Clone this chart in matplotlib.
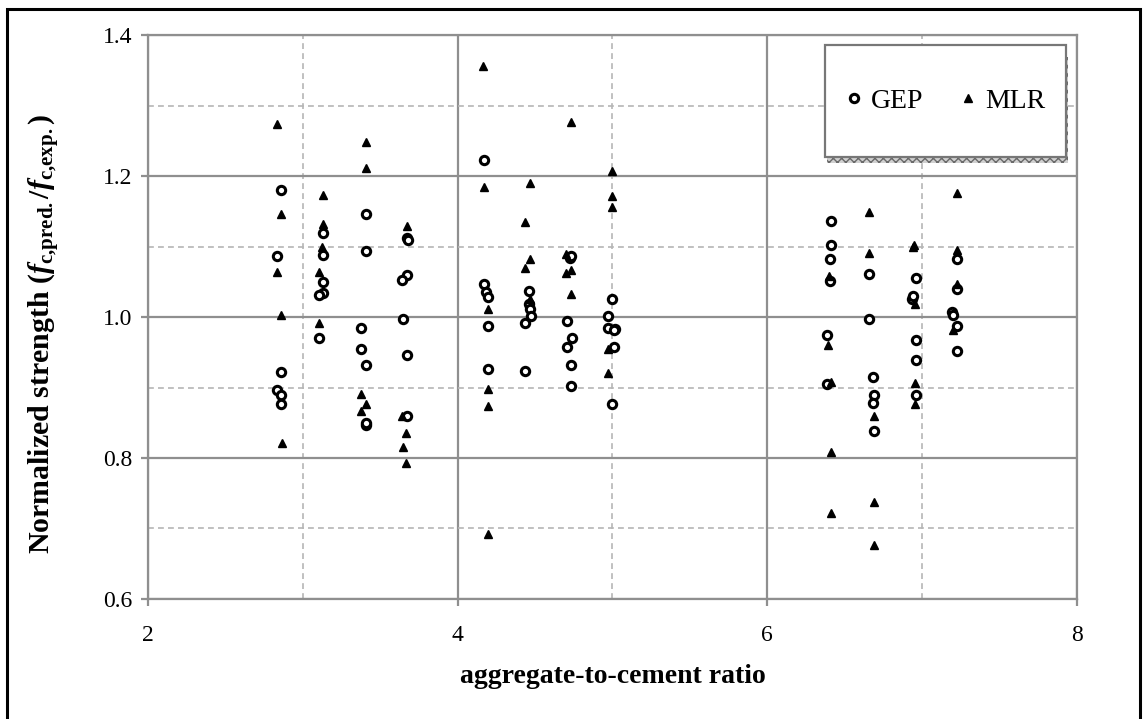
import matplotlib.pyplot as plt
from matplotlib.patches import Rectangle
from matplotlib.lines import Line2D
from matplotlib.ticker import MultipleLocator

plt.rcParams['font.family'] = ['Liberation Serif', 'DejaVu Serif']
plt.rcParams['mathtext.fontset'] = 'custom'
plt.rcParams['mathtext.rm'] = 'Liberation Serif:bold'
plt.rcParams['mathtext.it'] = 'Liberation Serif:bold:italic'
plt.rcParams['mathtext.bf'] = 'Liberation Serif:bold'

# GEP predictions, normalized by the experimental strength
gep_x = [2.862, 2.834, 2.862, 2.834, 2.862, 2.862,
         3.131, 3.131, 3.131, 3.131, 3.103, 3.103,
         3.407, 3.407, 3.373, 3.373, 3.405, 3.405, 3.409,
         3.675, 3.678, 3.675, 3.642, 3.644, 3.675, 3.675,
         4.168, 4.168, 4.185, 4.196, 4.194, 4.196,
         4.463, 4.463, 4.468, 4.472, 4.435, 4.435,
         4.725, 4.735, 4.707, 4.740, 4.707, 4.735, 4.735,
         5.000, 4.974, 4.974, 5.015, 5.010, 5.010, 5.000,
         6.414, 6.414, 6.407, 6.407, 6.388, 6.388,
         6.655, 6.655, 6.680, 6.687, 6.680, 6.687,
         6.957, 6.931, 6.940, 6.957, 6.957, 6.957,
         7.228, 7.228, 7.194, 7.200, 7.228, 7.228]
gep_y = [1.181, 1.086, 0.922, 0.897, 0.889, 0.877,
         1.119, 1.088, 1.050, 1.034, 1.032, 0.970,
         1.146, 1.094, 0.984, 0.954, 0.932, 0.847, 0.849,
         1.112, 1.110, 1.060, 1.052, 0.997, 0.946, 0.860,
         1.223, 1.047, 1.035, 1.028, 0.988, 0.926,
         1.037, 1.019, 1.011, 1.001, 0.991, 0.924,
         1.084, 1.086, 0.994, 0.971, 0.957, 0.932, 0.902,
         1.026, 1.001, 0.985, 0.983, 0.981, 0.958, 0.877,
         1.136, 1.103, 1.083, 1.051, 0.975, 0.905,
         1.061, 0.997, 0.915, 0.889, 0.878, 0.838,
         1.056, 1.026, 1.030, 0.967, 0.939, 0.890,
         1.083, 1.040, 1.007, 1.003, 0.988, 0.952]

# MLR predictions, normalized by the experimental strength
mlr_x = [2.834, 2.862, 2.834, 2.862, 2.866,
         3.131, 3.131, 3.127, 3.105, 3.107,
         3.407, 3.407, 3.373, 3.405, 3.377,
         3.675, 3.642, 3.669, 3.649, 3.669,
         4.164, 4.168, 4.194, 4.194, 4.194, 4.194,
         4.466, 4.435, 4.466, 4.435, 4.466,
         4.735, 4.700, 4.735, 4.700, 4.735,
         5.000, 5.000, 5.000, 4.974, 4.974,
         6.397, 6.392, 6.414, 6.414, 6.409,
         6.659, 6.659, 6.687, 6.687, 6.687,
         6.940, 6.950, 6.953, 6.953, 6.953,
         7.226, 7.226, 7.226, 7.200]
mlr_y = [1.274, 1.146, 1.064, 1.003, 0.822,
         1.173, 1.132, 1.100, 1.064, 0.992,
         1.249, 1.211, 0.891, 0.877, 0.866,
         1.129, 0.859, 0.835, 0.816, 0.793,
         1.356, 1.185, 1.011, 0.898, 0.874, 0.692,
         1.190, 1.135, 1.082, 1.069, 1.025,
         1.277, 1.089, 1.067, 1.062, 1.033,
         1.208, 1.172, 1.156, 0.954, 0.920,
         1.059, 0.960, 0.908, 0.809, 0.722,
         1.149, 1.091, 0.860, 0.738, 0.677,
         1.100, 1.102, 1.019, 0.906, 0.877,
         1.176, 1.095, 1.047, 0.981]

x_ticks = [2, 4, 6, 8]
y_ticks = [0.6, 0.8, 1.0, 1.2, 1.4]

fig = plt.figure(figsize=(11.47, 7.19), dpi=100)
ax = fig.add_axes([0.129, 0.167, 0.81, 0.784])

circ = dict(marker='o', ms=6.0, mfc='white', mec='black', mew=2.2, ls='none')
tri = dict(marker='^', ms=5.6, color='black', ls='none')

ax.plot(gep_x, gep_y, label='GEP', zorder=3, **circ)
ax.plot(mlr_x, mlr_y, label='MLR', zorder=3, **tri)

ax.set_xlim(2, 8)
ax.set_ylim(0.6, 1.4)
ax.set_xticks(x_ticks)
ax.set_yticks(y_ticks)
ax.set_yticklabels([f'{v:.1f}' for v in y_ticks])
ax.xaxis.set_minor_locator(MultipleLocator(1))
ax.yaxis.set_minor_locator(MultipleLocator(0.1))

ax.grid(which='major', color='#8f8f8f', lw=1.6, ls='-')
ax.grid(which='minor', color='#b5b5b5', lw=1.2, ls=(0, (3.5, 2.5)))
ax.set_axisbelow(True)
for s in ax.spines.values():
    s.set_color('#8f8f8f')
    s.set_linewidth(1.6)

ax.tick_params(which='major', direction='out', length=5, width=1.6,
               color='#8f8f8f', labelsize=17)
ax.tick_params(axis='x', pad=14)
ax.tick_params(axis='y', pad=6)
ax.tick_params(which='minor', length=0)

ax.set_xlabel('aggregate-to-cement ratio', fontsize=20, fontweight='bold')
ax.xaxis.set_label_coords(0.5, -0.115)
ax.set_ylabel(r'Normalized strength ($f_{\rm c{,}pred.}$/$f_{\rm c{,}exp.}$)',
              fontsize=21.5, fontweight='bold')
ax.yaxis.set_label_coords(-0.093, 0.47)

# legend box with a hatched shadow along the bottom and right edges
bx, by, bw, bh = 0.729, 0.784, 0.259, 0.198
sh = dict(transform=ax.transAxes, facecolor='#d0d0d0', edgecolor='#6a6a6a',
          hatch='xxxx', lw=0, zorder=4)
ax.add_patch(Rectangle((bx + 0.002, by - 0.011), bw, 0.011, **sh))
ax.add_patch(Rectangle((bx + bw, by - 0.011), 0.002, bh - 0.01, **sh))
ax.add_patch(Rectangle((bx, by), bw, bh, transform=ax.transAxes,
                       facecolor='white', edgecolor='#777777', lw=1.6,
                       zorder=4))
handles = [Line2D([], [], **circ), Line2D([], [], **tri)]
leg = ax.legend(handles, ['GEP', 'MLR'], loc='center',
                bbox_to_anchor=(bx, by, bw, bh), ncol=2, frameon=False,
                fontsize=20, handlelength=0.6, handletextpad=0.3,
                columnspacing=1.3)
leg.set_zorder(5)

# page frame, open at the bottom
fig.patches.append(Rectangle((0.006, -0.05), 0.988, 1.037,
                             transform=fig.transFigure, fill=False,
                             edgecolor='black', lw=2.2))

fig.savefig('out.png', dpi=100)
